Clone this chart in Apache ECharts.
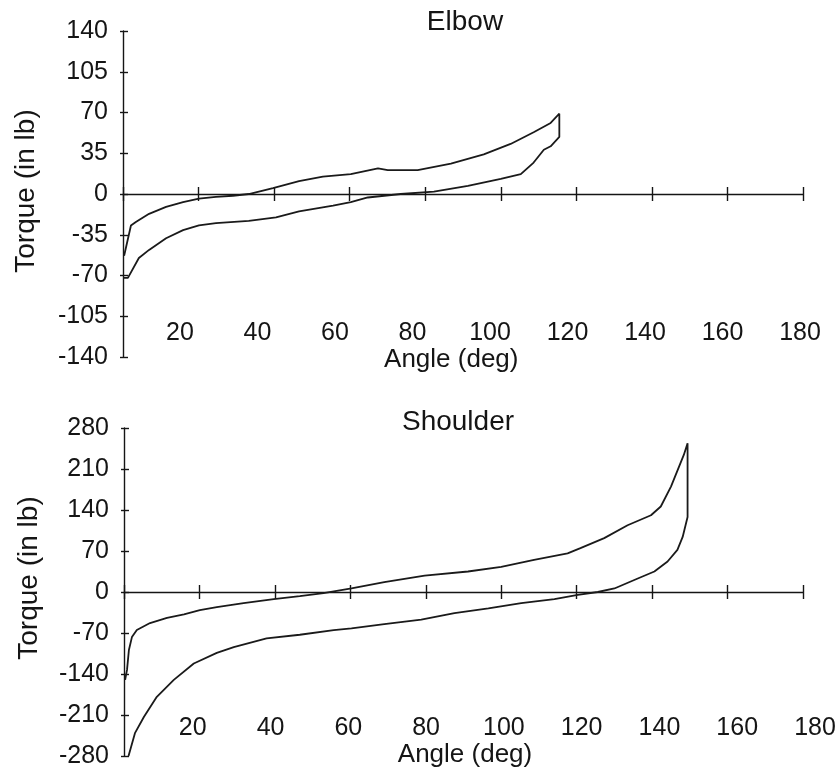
<!DOCTYPE html>
<html>
<head>
<meta charset="utf-8">
<script src="https://cdn.jsdelivr.net/npm/echarts@6/dist/echarts.min.js"></script>
<style>html,body{margin:0;padding:0;background:#fff}#c{width:840px;height:772px}</style>
</head>
<body>
<div id="c"></div>
<script>
// ---- Elbow (angle in deg, torque in in·lb) ----
const elbowLowerAngle  = [0, 1.3, 4.2, 6.9, 11.4, 15.9, 20.1, 24.6, 33.3, 40.5, 46.6, 55.6, 60.3, 64.8, 73.5, 82.3, 91.3, 100, 105.3, 108.7, 111.4, 113.2, 115.5];
const elbowLowerTorque = [-72, -72, -55, -48, -38, -31, -27, -25, -23, -20, -15, -10, -7, -3, 0, 2, 7, 13, 17, 27, 38, 41, 49];
const elbowUpperAngle  = [115.5, 113.2, 108.7, 102.6, 95.5, 86.8, 78, 70.1, 67.5, 60.3, 52.9, 46.6, 39.7, 33.3, 29.1, 24.6, 20.1, 15.9, 11.4, 6.9, 3.4, 2.1, 0.3];
const elbowUpperTorque = [69, 61, 53, 43, 34, 26, 20.5, 20.5, 22, 17, 15, 11, 5, 0, -1.5, -2.5, -4, -7, -11, -17, -24, -27, -53];

// ---- Shoulder ----
const shoulderLowerAngle  = [1.2, 2.9, 5.3, 8.7, 13.2, 18.5, 24.6, 29.1, 37.8, 46.6, 55.6, 60.3, 69, 78.8, 87.6, 96.6, 105.3, 114.1, 120.3, 125.6, 130, 136.2, 140.6, 144.1, 146.7, 148.1, 149.4];
const shoulderLowerTorque = [-280, -241, -213, -179, -150, -122, -104, -94, -79, -73, -65, -62, -55, -47, -36, -28, -19, -12, -5, 0, 6, 23, 35, 52, 72, 94, 128];
const shoulderUpperAngle  = [149.4, 148.4, 145, 142.3, 139.7, 133.5, 127.3, 121, 117.6, 108.7, 100, 91.2, 79.7, 69, 60.3, 52.9, 46.6, 39.7, 31.7, 24.6, 20.1, 15.9, 11.4, 6.9, 3.4, 2.1, 1.3, 0.8, 0.3];
const shoulderUpperTorque = [254, 234, 180, 146, 131, 114, 92, 75, 66, 55, 43, 35, 28, 17, 6, -2, -7, -12, -19, -26, -31, -38, -44, -53, -65, -77, -99, -133, -150];

// ---- Axes ----
const angleMin = 0, angleMax = 180, angleStep = 20;
const elbowMin = -140, elbowMax = 140, elbowStep = 35;
const shoulderMin = -280, shoulderMax = 280, shoulderStep = 70;
const titles = ['Elbow', 'Shoulder'];
const xName = 'Angle (deg)';
const yName = 'Torque (in lb)';

const FONT = '"Liberation Sans", Arial, Helvetica, sans-serif';
const INK = '#151515';

function pairs(a, t) { return a.map((v, i) => [v, t[i]]); }

function lineAxis(grid, pos) {
  return {
    type: 'value', gridIndex: grid, position: pos,
    min: angleMin, max: angleMax, interval: angleStep,
    axisLine: { show: pos === 'bottom', onZero: true, lineStyle: { color: INK, width: 1.4 } },
    axisTick: { show: true, inside: false, length: 7, lineStyle: { color: INK, width: 1.4 } },
    axisLabel: { show: false }, splitLine: { show: false }
  };
}
function labelAxis(grid, gap) {
  return {
    type: 'value', gridIndex: grid, position: 'bottom',
    min: angleMin, max: angleMax, interval: angleStep,
    axisLine: { show: false, onZero: false }, axisTick: { show: false }, splitLine: { show: false },
    axisLabel: { show: true, showMinLabel: false, margin: 10, verticalAlign: 'middle',
      fontFamily: FONT, fontSize: 25, color: INK },
    name: xName, nameLocation: 'middle', nameGap: gap,
    nameTextStyle: { fontFamily: FONT, fontSize: 26, color: INK, verticalAlign: 'middle' }
  };
}
function valAxis(grid, pos, mn, mx, st) {
  const left = pos === 'left';
  return {
    type: 'value', gridIndex: grid, position: pos,
    min: mn, max: mx, interval: st,
    axisLine: { show: left, onZero: true, lineStyle: { color: INK, width: 1.4 } },
    axisTick: { show: true, inside: false, length: left ? 3 : 5, lineStyle: { color: INK, width: 1.4 } },
    axisLabel: { show: left, margin: 15, fontFamily: FONT, fontSize: 25, color: INK },
    splitLine: { show: false }
  };
}
function hiddenAxis(grid) {
  return { type: 'value', gridIndex: grid, min: 0, max: 1, show: false };
}

const lineStyle = { color: '#1a1a1a', width: 1.8 };

const option = {
  animation: false,
  backgroundColor: '#ffffff',
  grid: [
    { left: 123, top: 31, width: 680, height: 326 },
    { left: 102.5, top: 31, width: 697.5, height: 292 },
    { left: 124, top: 428, width: 679, height: 328 },
    { left: 115, top: 428, width: 700, height: 290 }
  ],
  xAxis: [
    lineAxis(0, 'bottom'), lineAxis(0, 'top'), labelAxis(1, 35),
    lineAxis(2, 'bottom'), lineAxis(2, 'top'), labelAxis(3, 37)
  ],
  yAxis: [
    valAxis(0, 'left', elbowMin, elbowMax, elbowStep), valAxis(0, 'right', elbowMin, elbowMax, elbowStep), hiddenAxis(1),
    valAxis(2, 'left', shoulderMin, shoulderMax, shoulderStep), valAxis(2, 'right', shoulderMin, shoulderMax, shoulderStep), hiddenAxis(3)
  ],
  graphic: [
    { type: 'text', x: 465, y: 22, style: { text: titles[0], font: '28px ' + FONT, fill: INK, align: 'center', verticalAlign: 'middle' } },
    { type: 'text', x: 458, y: 422, style: { text: titles[1], font: '28px ' + FONT, fill: INK, align: 'center', verticalAlign: 'middle' } },
    { type: 'text', x: 26, y: 191, rotation: Math.PI / 2, style: { text: yName, font: '28px ' + FONT, fill: INK, align: 'center', verticalAlign: 'middle' } },
    { type: 'text', x: 29, y: 578, rotation: Math.PI / 2, style: { text: yName, font: '28px ' + FONT, fill: INK, align: 'center', verticalAlign: 'middle' } }
  ],
  series: [
    { type: 'line', xAxisIndex: 0, yAxisIndex: 0, symbol: 'none', silent: true, lineStyle: lineStyle,
      data: pairs(elbowLowerAngle, elbowLowerTorque).concat(pairs(elbowUpperAngle, elbowUpperTorque)) },
    { type: 'line', xAxisIndex: 3, yAxisIndex: 3, symbol: 'none', silent: true, lineStyle: lineStyle,
      data: pairs(shoulderLowerAngle, shoulderLowerTorque).concat(pairs(shoulderUpperAngle, shoulderUpperTorque)) }
  ]
};

const chart = echarts.init(document.getElementById('c'), null, { renderer: 'canvas' });
chart.setOption(option);
</script>
</body>
</html>
